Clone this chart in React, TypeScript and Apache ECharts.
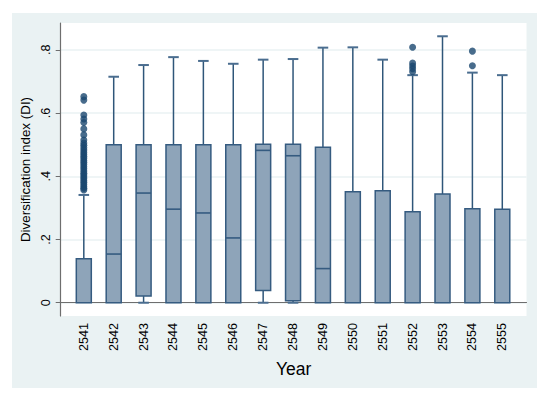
import React, { useEffect, useRef } from 'react';
import * as echarts from 'echarts';

const YEARS = ['2541', '2542', '2543', '2544', '2545', '2546', '2547', '2548', '2549', '2550', '2551', '2552', '2553', '2554', '2555'];
const WHISKER_LOW = [0, 0, 0, 0, 0, 0, 0, 0, 0, 0, 0, 0, 0, 0, 0];
const Q1 = [0, 0, 0.021, 0, 0, 0, 0.039, 0.006, 0, 0, 0, 0, 0, 0, 0];
const MEDIAN = [0, 0.154, 0.347, 0.296, 0.284, 0.205, 0.482, 0.465, 0.108, 0, 0, 0, 0, 0, 0];
const Q3 = [0.139, 0.5, 0.5, 0.5, 0.5, 0.5, 0.501, 0.501, 0.492, 0.351, 0.354, 0.288, 0.344, 0.297, 0.296];
const WHISKER_HIGH = [0.341, 0.715, 0.752, 0.777, 0.765, 0.756, 0.769, 0.771, 0.807, 0.808, 0.769, 0.72, 0.843, 0.728, 0.72];

const OUTLIERS_2541 = [0.652, 0.641, 0.594, 0.581, 0.57, 0.55, 0.531, 0.515, 0.505, 0.498, 0.49, 0.483, 0.476, 0.47, 0.463, 0.457, 0.45, 0.444, 0.437, 0.43, 0.424, 0.417, 0.41, 0.404, 0.398, 0.392, 0.386, 0.38, 0.374, 0.368, 0.362, 0.357];
const OUTLIERS_2552 = [0.808, 0.758, 0.749, 0.74, 0.731];
const OUTLIERS_2554 = [0.796, 0.75];

const Y_TICKS = [0, 0.2, 0.4, 0.6, 0.8];
const X_TICKS = YEARS.map((_, i) => i + 1);

const FONT = 'Liberation Sans, Arial, Helvetica, sans-serif';

export default function App() {
  const ref = useRef<HTMLDivElement>(null);

  useEffect(() => {
    if (!ref.current) return;
    const chart = echarts.init(ref.current, null, { renderer: 'svg' });

    const boxData = YEARS.map((_, i) => [i + 1, WHISKER_LOW[i], Q1[i], MEDIAN[i], Q3[i], WHISKER_HIGH[i]]);
    const outlierData: number[][] = [];
    OUTLIERS_2541.forEach((v) => outlierData.push([YEARS.indexOf('2541') + 1, v]));
    OUTLIERS_2552.forEach((v) => outlierData.push([YEARS.indexOf('2552') + 1, v]));
    OUTLIERS_2554.forEach((v) => outlierData.push([YEARS.indexOf('2554') + 1, v]));

    const edge = '#355b80';
    const whisker = '#2f5679';

    const option: any = {
      animation: false,
      graphic: [
        {
          type: 'rect',
          z: -100,
          silent: true,
          shape: { x: 12, y: 13, width: 525, height: 375 },
          style: { fill: '#eaf2f3' },
        },
      ],
      grid: {
        left: 60.7,
        right: 24.5,
        top: 23,
        bottom: 80,
        show: true,
        backgroundColor: '#ffffff',
        borderWidth: 0,
      },
      xAxis: {
        type: 'value',
        min: 0.227,
        max: 15.81,
        name: 'Year',
        nameLocation: 'middle',
        nameGap: 44,
        nameTextStyle: { fontFamily: FONT, fontSize: 17.5, color: '#000' },
        axisLine: { show: true, lineStyle: { color: '#6e6e6e', width: 1.2 } },
        axisTick: { show: false },
        splitLine: { show: false },
        axisLabel: {
          customValues: X_TICKS,
          rotate: 90,
          margin: 7,
          fontFamily: FONT,
          fontSize: 12.6,
          color: '#000',
          formatter: (v: number) => YEARS[Math.round(v) - 1] ?? '',
        },
      },
      yAxis: {
        type: 'value',
        min: -0.042,
        max: 0.885,
        name: 'Diversification index (DI)',
        nameLocation: 'middle',
        nameGap: 23,
        nameTextStyle: { fontFamily: FONT, fontSize: 13.4, color: '#000' },
        axisLine: { show: true, lineStyle: { color: '#6e6e6e', width: 1.2 } },
        axisTick: { show: true, customValues: Y_TICKS, length: 5, lineStyle: { color: '#6e6e6e', width: 1 } },
        splitLine: { show: true, lineStyle: { color: '#eaf2f3', width: 1.5 } },
        axisLabel: {
          customValues: Y_TICKS,
          rotate: 90,
          margin: 8,
          fontFamily: FONT,
          fontSize: 12.6,
          color: '#000',
          formatter: (v: number) => (Math.abs(v) < 1e-9 ? '0' : v.toFixed(1).replace(/^0/, '')),
        },
      },
      series: [
        {
          type: 'custom',
          data: boxData,
          encode: { x: 0, y: [1, 2, 3, 4, 5] },
          z: 2,
          renderItem: (params: any, api: any) => {
            const x = api.value(0);
            const lo = api.value(1);
            const a = api.value(2);
            const m = api.value(3);
            const b = api.value(4);
            const hi = api.value(5);
            const pLo = api.coord([x, lo]);
            const pQ1 = api.coord([x, a]);
            const pM = api.coord([x, m]);
            const pQ3 = api.coord([x, b]);
            const pHi = api.coord([x, hi]);
            const cx = pQ1[0];
            const hw = 7.5;
            const cw = 5.3;
            const children: any[] = [];
            if (hi > b) {
              children.push({ type: 'line', shape: { x1: cx, y1: pQ3[1], x2: cx, y2: pHi[1] }, style: { stroke: whisker, lineWidth: 1.5 } });
              children.push({ type: 'line', shape: { x1: cx - cw, y1: pHi[1], x2: cx + cw, y2: pHi[1] }, style: { stroke: '#4a6d8f', lineWidth: 2 } });
            }
            if (a > lo) {
              children.push({ type: 'line', shape: { x1: cx, y1: pQ1[1], x2: cx, y2: pLo[1] }, style: { stroke: whisker, lineWidth: 1.5 } });
              children.push({ type: 'line', shape: { x1: cx - cw, y1: pLo[1], x2: cx + cw, y2: pLo[1] }, style: { stroke: '#4a6d8f', lineWidth: 2 } });
            }
            children.push({
              type: 'rect',
              shape: { x: cx - hw, y: pQ3[1], width: hw * 2, height: pQ1[1] - pQ3[1] },
              style: { fill: '#8ea4b9', stroke: edge, lineWidth: 1.5 },
            });
            if (m > a) {
              children.push({ type: 'line', shape: { x1: cx - hw, y1: pM[1], x2: cx + hw, y2: pM[1] }, style: { stroke: edge, lineWidth: 1.6 } });
            }
            return { type: 'group', children };
          },
        },
        {
          type: 'scatter',
          data: outlierData,
          symbol: 'circle',
          symbolSize: 7,
          z: 3,
          itemStyle: { color: '#1a476f' },
        },
      ],
    };

    chart.setOption(option);
    return () => chart.dispose();
  }, []);

  return <div ref={ref} style={{ position: 'absolute', left: 0, top: 0, width: 551, height: 396 }} />;
}
